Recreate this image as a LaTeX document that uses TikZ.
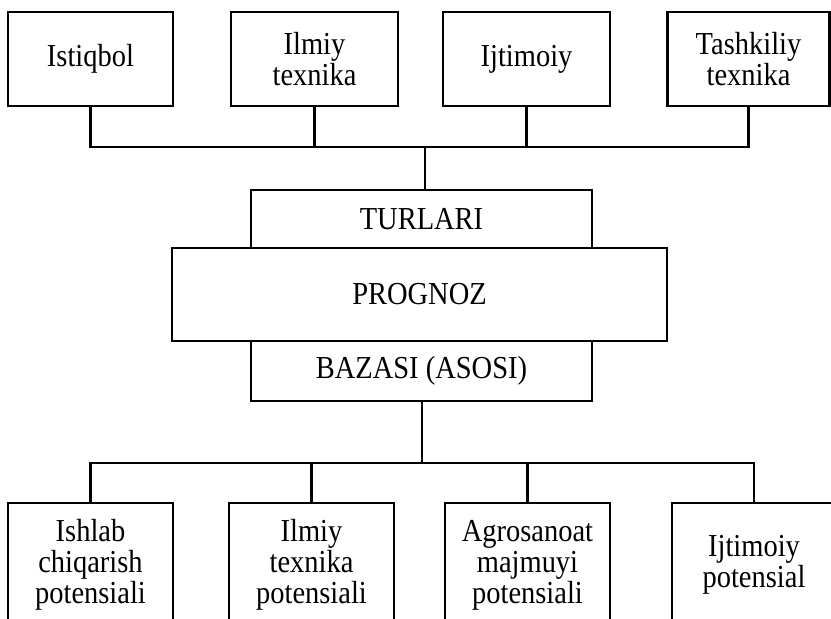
\documentclass[tikz,border=0pt]{standalone}
\usepackage{fontspec}
\setmainfont{Liberation Serif}
\newfontfamily\boxfont[FakeStretch=0.89]{Liberation Serif}
\begin{document}
\begin{tikzpicture}[x=1pt,y=-1pt,
  box/.style={draw,line width=2.4pt,inner sep=0pt,align=center,
    font=\boxfont\fontsize{32}{31}\selectfont},
  conn/.style={line width=2.4pt,line cap=rect}]
\useasboundingbox (0,0) rectangle (831,619);
\clip (0,0) rectangle (831,619);
% top boxes
\node[box,minimum width=165pt,minimum height=94pt] (t1) at (90.5,59) {Istiqbol};
\node[box,minimum width=167pt,minimum height=94pt] (t2) at (314.5,59) {Ilmiy\\texnika};
\node[box,minimum width=167pt,minimum height=94pt] (t3) at (526.5,59) {Ijtimoiy};
\node[box,minimum width=162pt,minimum height=94pt] (t4) at (748.5,59) {Tashkiliy\\texnika};
% centre
\node[box,minimum width=341pt,minimum height=58pt] (tur) at (421.5,219) {TURLARI};
\node[box,minimum width=341pt,minimum height=60pt] (baz) at (421.5,371) {BAZASI (ASOSI)};
\node[box,minimum width=495pt,minimum height=93pt,fill=white] (prog) at (419.5,294.5) {PROGNOZ};
% bottom boxes
\node[box,minimum width=165pt,minimum height=124pt] (b1) at (90.5,565) {Ishlab\\chiqarish\\potensiali};
\node[box,minimum width=165pt,minimum height=124pt] (b2) at (311.5,565) {Ilmiy\\texnika\\potensiali};
\node[box,minimum width=165pt,minimum height=124pt] (b3) at (527.5,565) {Agrosanoat\\majmuyi\\potensiali};
\node[box,minimum width=164pt,minimum height=124pt] (b4) at (754,565) {Ijtimoiy\\potensial};
% connectors
\coordinate (tb) at (425,147);
\coordinate (bb) at (422,463);
\draw[conn] (t1.south) -- (t1.south |- tb) -- (t4.south |- tb) -- (t4.south);
\draw[conn] (t2.south) -- (t2.south |- tb);
\draw[conn] (t3.south) -- (t3.south |- tb);
\draw[conn] (tb) -- (tb |- tur.north);
\draw[conn] (bb |- baz.south) -- (bb);
\draw[conn] (b1.north) -- (b1.north |- bb) -- (b4.north |- bb) -- (b4.north);
\draw[conn] (b2.north) -- (b2.north |- bb);
\draw[conn] (b3.north) -- (b3.north |- bb);
\end{tikzpicture}
\end{document}
